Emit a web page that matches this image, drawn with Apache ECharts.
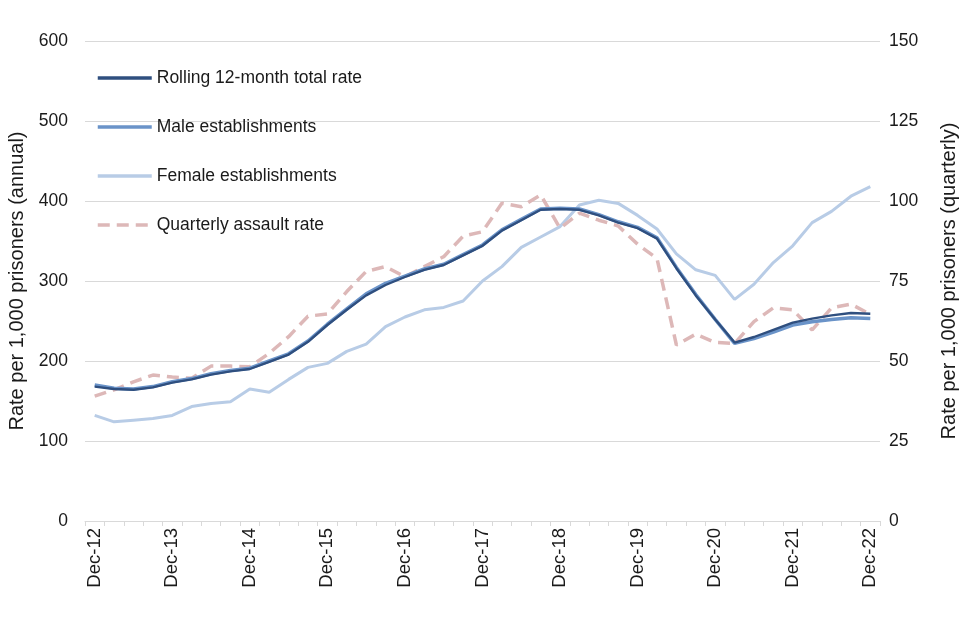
<!DOCTYPE html>
<html>
<head>
<meta charset="utf-8">
<script src="https://cdn.jsdelivr.net/npm/echarts@6/dist/echarts.min.js"></script>
<style>
html,body{margin:0;padding:0;background:#fff;}
#chart{width:960px;height:640px;}
</style>
</head>
<body>
<div id="chart"></div>
<script>
const categories = [
  "Dec-12","Mar-13","Jun-13","Sep-13","Dec-13","Mar-14","Jun-14","Sep-14",
  "Dec-14","Mar-15","Jun-15","Sep-15","Dec-15","Mar-16","Jun-16","Sep-16",
  "Dec-16","Mar-17","Jun-17","Sep-17","Dec-17","Mar-18","Jun-18","Sep-18",
  "Dec-18","Mar-19","Jun-19","Sep-19","Dec-19","Mar-20","Jun-20","Sep-20",
  "Dec-20","Mar-21","Jun-21","Sep-21","Dec-21","Mar-22","Jun-22","Sep-22","Dec-22"
];
const totalRate = [168,165,164,167,173,177,183,187,190,199,208,224,245,264,282,295,305,314,320,332,344,363,376,389,390,389,382,373,366,353,316,282,252,223,230,239,248,253,257,260,259];
const maleRate = [170,166,165,168,174,178,184,188,191,200,209,225,246,265,284,297,306,315,321,333,345,364,377,390,391,390,383,374,367,354,317,283,252,222,228,236,245,249,252,254,253];
const femaleRate = [132,124,126,128,132,143,147,149,165,161,177,192,197,212,221,243,255,264,267,275,300,318,342,355,368,395,401,397,382,365,334,314,307,277,296,323,344,373,387,406,418];
const quarterlyRate = [39,41,43.5,45.6,45,44.6,48.4,48.4,48.2,52.4,57.6,64,64.7,71.7,78,79.5,76.3,79.5,82.6,89,90.4,99.3,98.2,101.9,91.5,96.2,94,92.2,86.5,82,55,58.4,55.8,55.5,62.3,66.6,66,59.7,66.6,67.8,64.6];
const leftTicks = {min:0, max:600, interval:100};
const rightTicks = {min:0, max:150, interval:25};

const chart = echarts.init(document.getElementById('chart'), null, {renderer:'canvas'});
const font = 'Liberation Sans, Arial, sans-serif';
chart.setOption({
  animation:false,
  backgroundColor:'#ffffff',
  textStyle:{fontFamily:font},
  grid:{left:85, right:80, top:41, bottom:119, containLabel:false, outerBoundsMode:'none'},
  legend:{
    orient:'vertical', left:91, top:64,
    itemWidth:54, itemHeight:14, itemGap:31,
    itemStyle:{opacity:0},
    lineStyle:{width:3.5},
    textStyle:{fontSize:17.5, color:'#1a1a1a', fontFamily:font},
    data:['Rolling 12-month total rate','Male establishments','Female establishments','Quarterly assault rate']
  },
  xAxis:{
    type:'category', data:categories, boundaryGap:true,
    axisLine:{lineStyle:{color:'#D9D9D9', width:1}},
    axisTick:{show:true, interval:0, length:5, lineStyle:{color:'#D9D9D9'}},
    axisLabel:{interval:3, rotate:90, fontSize:18.5, color:'#1a1a1a', margin:7, fontFamily:font},
    splitLine:{show:false}
  },
  yAxis:[
    {type:'value', min:leftTicks.min, max:leftTicks.max, interval:leftTicks.interval,
     name:'Rate per 1,000 prisoners (annual)', nameLocation:'middle', nameGap:58,
     nameTextStyle:{fontSize:20, color:'#1a1a1a', fontFamily:font},
     axisLine:{show:false}, axisTick:{show:false},
     axisLabel:{fontSize:17.5, color:'#1a1a1a', margin:17, fontFamily:font},
     splitLine:{lineStyle:{color:'#D9D9D9', width:1.2}}},
    {type:'value', min:rightTicks.min, max:rightTicks.max, interval:rightTicks.interval,
     name:'Rate per 1,000 prisoners (quarterly)', nameLocation:'middle', nameGap:59,
     nameTextStyle:{fontSize:20, color:'#1a1a1a', fontFamily:font},
     axisLine:{show:false}, axisTick:{show:false},
     axisLabel:{fontSize:17.5, color:'#1a1a1a', margin:9, fontFamily:font},
     splitLine:{show:false}}
  ],
  series:[
    {name:'Female establishments', type:'line', data:femaleRate, yAxisIndex:0, symbol:'none',
     lineStyle:{color:'#B8CCE6', width:3}, itemStyle:{color:'#B8CCE6'}, z:2},
    {name:'Quarterly assault rate', type:'line', data:quarterlyRate, yAxisIndex:1, symbol:'none',
     lineStyle:{color:'#DDB8B8', width:3.5, type:[12,7]}, itemStyle:{color:'#DDB8B8'}, z:3},
    {name:'Male establishments', type:'line', data:maleRate, yAxisIndex:0, symbol:'none',
     lineStyle:{color:'#6A93C8', width:3.5}, itemStyle:{color:'#6A93C8'}, z:4},
    {name:'Rolling 12-month total rate', type:'line', data:totalRate, yAxisIndex:0, symbol:'none',
     lineStyle:{color:'#2F4F7F', width:2.4}, itemStyle:{color:'#2F4F7F'}, z:5}
  ]
});
</script>
</body>
</html>
